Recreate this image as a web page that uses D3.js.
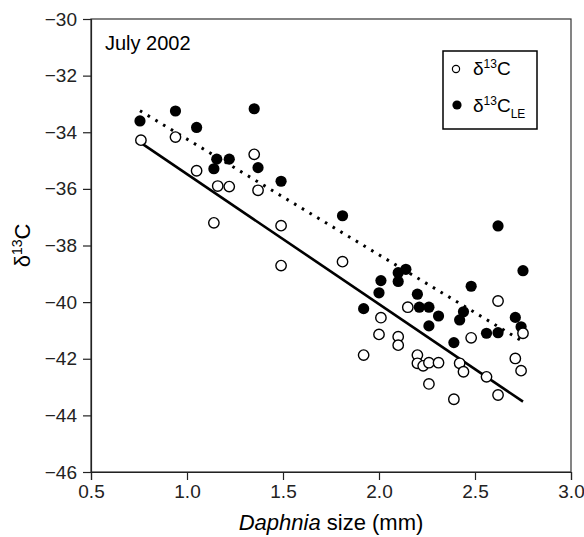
<!DOCTYPE html>
<html>
<head>
<meta charset="utf-8">
<script src="https://cdn.jsdelivr.net/npm/d3@7"></script>
<style>
  body { margin: 0; background: #fff; }
  svg { font-family: "Liberation Sans", Arial, Helvetica, sans-serif; }
</style>
</head>
<body>
<div class="chart"></div>
<script>
// Daphnia size (mm) and d13C, open circles
var sizeOpen = [0.76, 0.94, 1.05, 1.35, 1.37, 1.16, 1.22, 1.14, 1.49, 1.49, 1.81,
    2.15, 2.01, 2.00, 2.10, 2.10, 1.92, 2.20, 2.20, 2.23, 2.26, 2.31, 2.26,
    2.42, 2.44, 2.56, 2.48, 2.62, 2.75, 2.71, 2.74, 2.62, 2.39];
var d13C = [-34.28, -34.17, -35.36, -34.78, -36.05, -35.90, -35.92, -37.20, -37.30, -38.71, -38.57,
    -40.18, -40.55, -41.14, -41.22, -41.52, -41.87, -41.87, -42.16, -42.25, -42.14, -42.14, -42.89,
    -42.16, -42.46, -42.64, -41.26, -39.96, -41.10, -41.99, -42.42, -43.28, -43.43];

// Daphnia size (mm) and lipid-extracted d13C, filled circles
var sizeLE = [0.755, 0.94, 1.05, 1.35, 1.155, 1.22, 1.14, 1.37, 1.49, 1.81,
    2.14, 2.10, 2.10, 2.01, 2.00, 2.20, 1.92, 2.21, 2.26, 2.31, 2.26,
    2.44, 2.42, 2.39, 2.56, 2.62, 2.71, 2.74, 2.62, 2.75, 2.48];
var d13C_LE = [-33.60, -33.25, -33.83, -33.17, -34.95, -34.95, -35.29, -35.25, -35.73, -36.95,
    -38.84, -38.96, -39.27, -39.24, -39.67, -39.72, -40.23, -40.18, -40.18, -40.49, -40.84,
    -40.34, -40.63, -41.43, -41.10, -41.08, -40.54, -40.87, -37.31, -38.89, -39.44];

var xTicks = [0.5, 1.0, 1.5, 2.0, 2.5, 3.0];
var yTicks = [-30, -32, -34, -36, -38, -40, -42, -44, -46];

var width = 584;
var height = 537;
var margin = ({ top: 19, right: 13, bottom: 65, left: 91 });

var svg = d3.select("div.chart")
    .append("svg")
    .attr("width", width)
    .attr("height", height);

var x = d3.scaleLinear()
    .domain([0.5, 3.0])
    .range([margin.left, width - margin.right]);
var y = d3.scaleLinear()
    .domain([-46, -30])
    .range([height - margin.bottom, margin.top]);

// Frame round the plot area
svg.append("rect")
    .attr("x", x(0.5))
    .attr("y", y(-30))
    .attr("width", x(3.0) - x(0.5))
    .attr("height", y(-46) - y(-30))
    .attr("fill", "none")
    .attr("stroke", "#333")
    .attr("stroke-width", 1.2);

// Axes
var xAxis = g => g
    .attr("transform", `translate(0,${y(-46)})`)
    .call(d3.axisBottom(x).tickValues(xTicks).tickFormat(d3.format(".1f")).tickSize(8).tickPadding(5))
    .style("font-size", 19)
    .style("font-family", null)
    .style("color", "#222");
var yAxis = g => g
    .attr("transform", `translate(${x(0.5)},0)`)
    .call(d3.axisLeft(y).tickValues(yTicks).tickSize(8).tickPadding(6))
    .style("font-size", 19)
    .style("font-family", null)
    .style("color", "#222");

svg.append("g").call(xAxis)
    .call(g => g.select(".domain").attr("stroke-width", 1.2))
    .call(g => g.selectAll(".tick line").attr("stroke-width", 1.2));
svg.append("g").call(yAxis)
    .call(g => g.select(".domain").attr("stroke-width", 1.2))
    .call(g => g.selectAll(".tick line").attr("stroke-width", 1.2));

// Least squares line through a series
function fit(xs, ys) {
    var mx = d3.mean(xs), my = d3.mean(ys);
    var sxy = d3.sum(xs, (v, i) => (v - mx) * (ys[i] - my));
    var sxx = d3.sum(xs, v => (v - mx) * (v - mx));
    var b = sxy / sxx;
    var a = my - b * mx;
    var ext = d3.extent(xs);
    return ext.map(v => [v, a + b * v]);
}

var line = d3.line().x(d => x(d[0])).y(d => y(d[1]));

svg.append("path")
    .datum(fit(sizeOpen, d13C))
    .attr("d", line)
    .attr("fill", "none")
    .attr("stroke", "#000")
    .attr("stroke-width", 2.6);

svg.append("path")
    .datum(fit(sizeLE, d13C_LE))
    .attr("d", line)
    .attr("fill", "none")
    .attr("stroke", "#000")
    .attr("stroke-width", 3)
    .attr("stroke-dasharray", "2.6 6.4");

// Points: filled first, open on top
svg.append("g")
    .selectAll("circle")
    .data(sizeLE)
    .join("circle")
      .attr("cx", d => x(d))
      .attr("cy", (d, i) => y(d13C_LE[i]))
      .attr("r", 5.6)
      .attr("fill", "#000");

svg.append("g")
    .selectAll("circle")
    .data(sizeOpen)
    .join("circle")
      .attr("cx", d => x(d))
      .attr("cy", (d, i) => y(d13C[i]))
      .attr("r", 5.2)
      .attr("fill", "#fff")
      .attr("stroke", "#000")
      .attr("stroke-width", 1.4);

// Titles
svg.append("text")
    .attr("x", 105)
    .attr("y", 50)
    .style("font-size", 20)
    .text("July 2002");

var xt = svg.append("text")
    .attr("x", (x(0.5) + x(3.0)) / 2)
    .attr("y", 530)
    .attr("text-anchor", "middle")
    .style("font-size", 22);
xt.append("tspan").style("font-style", "italic").text("Daphnia");
xt.append("tspan").text(" size (mm)");

var yt = svg.append("text")
    .attr("transform", `translate(30,${(y(-30) + y(-46)) / 2}) rotate(-90)`)
    .attr("text-anchor", "middle")
    .style("font-size", 22);
yt.append("tspan").text("δ");
yt.append("tspan").style("font-size", 14).attr("dy", -8).text("13");
yt.append("tspan").attr("dy", 8).text("C");

// Legend
var legend = svg.append("g");
legend.append("rect")
    .attr("x", 443)
    .attr("y", 51)
    .attr("width", 94)
    .attr("height", 78)
    .attr("fill", "#fff")
    .attr("stroke", "#000")
    .attr("stroke-width", 1.5);

legend.append("circle")
    .attr("cx", 456).attr("cy", 69).attr("r", 3.6)
    .attr("fill", "#fff").attr("stroke", "#000").attr("stroke-width", 1.2);
legend.append("circle")
    .attr("cx", 457).attr("cy", 105).attr("r", 4.6)
    .attr("fill", "#000");

var l1 = legend.append("text").attr("x", 473).attr("y", 75).style("font-size", 19);
l1.append("tspan").text("δ");
l1.append("tspan").style("font-size", 12).attr("dy", -7).text("13");
l1.append("tspan").attr("dy", 7).text("C");

var l2 = legend.append("text").attr("x", 473).attr("y", 112).style("font-size", 19);
l2.append("tspan").text("δ");
l2.append("tspan").style("font-size", 12).attr("dy", -7).text("13");
l2.append("tspan").attr("dy", 7).text("C");
l2.append("tspan").style("font-size", 12).attr("dy", 6).text("LE");
</script>
</body>
</html>
